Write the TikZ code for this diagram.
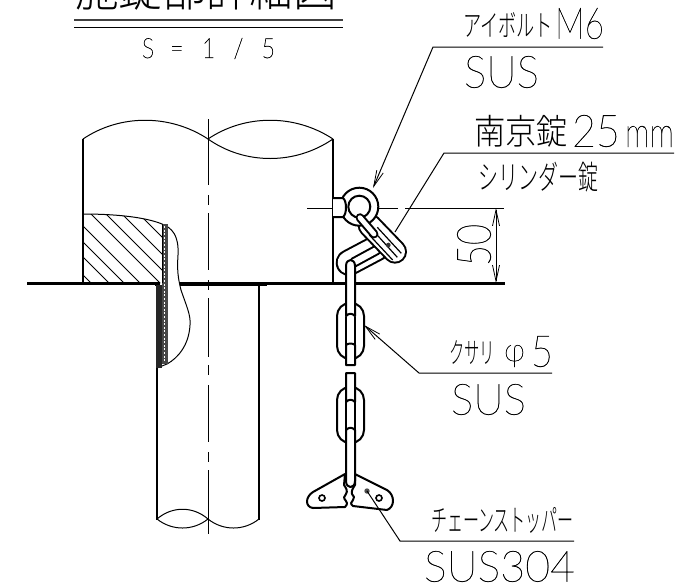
\documentclass[tikz,border=0pt]{standalone}
\usepackage{fontspec}
\usepackage{graphicx}
\usetikzlibrary{arrows.meta}
\newfontfamily\cadj{Noto Sans CJK JP Light}
\newfontfamily\cadl[FakeBold=0.7]{Lato Thin}
\newfontfamily\cads[FakeBold=1.4]{Lato Thin}
\tikzset{
  txt/.style={inner sep=0pt,outer sep=0pt,text=black},
  obj/.style={line width=2pt,line cap=round,line join=round},
  leader/.style={line width=1pt},
  barb/.tip={Straight Barb[length=16pt,width=7pt,line width=0.8pt]},
}
% capsule outline: black wide stroke with white core
\newcommand{\capsule}[3]{%
  \draw[line cap=round,line width=#3*2pt+2pt,black] #1 -- #2;
  \draw[line cap=round,line width=#3*2pt-2pt,white] #1 -- #2;}
\newcommand{\lbl}[6]{\node[txt] (#1) at (#2,#3) {\resizebox*{#4pt}{#5pt}{#6}};}
\begin{document}
\begin{tikzpicture}[x=1pt,y=-1pt]
\useasboundingbox (0,0) rectangle (684,584);
% title
\lbl{title}{206}{-12}{262}{44}{\cadj 施錠部詳細図}
\draw[line width=2.2pt,black!75] (74,20) -- (343,20);
\draw[line width=1pt] (74,27.5) -- (343,27.5);
\lbl{scale}{208.5}{48.5}{133}{21}{\cads S\hspace{0.7em}=\hspace{0.8em}1\hspace{0.8em}/\hspace{0.8em}5}
% hatching
\begin{scope}
  \clip (83,214) .. controls (115,214) and (145,217) .. (162,224) -- (162,283) -- (83,283) -- cycle;
  \foreach \c in {-192,-174,-159,-143,-123,-108,-92,-75}
    \draw[line width=0.9pt] (80,80-\c) -- (170,170-\c);
\end{scope}
\draw[line width=1pt] (83,214) .. controls (115,214) and (145,217) .. (162,224);
% centre lines
\draw[line width=1pt] (208,119) -- (208,185) (208,195) -- (208,205) (208,213) -- (208,270)
  (208,280) -- (208,290) (208,298) -- (208,357) (208,365) -- (208,375) (208,385) -- (208,442)
  (208,452) -- (208,462) (208,470) -- (208,534);
\draw[line width=1pt] (307,208) -- (398,208) (405,208) -- (504,208);
% upper pipe
\draw[line width=1pt] (83,139) .. controls (120,114) and (170,114) .. (208,139)
  .. controls (245,114) and (295,114) .. (333,139);
\draw[line width=1pt] (208,139) .. controls (245,165) and (295,165) .. (333,139);
\draw[obj,line cap=butt] (83,139) -- (83,283);
\draw[obj,line cap=butt] (333,139) -- (333,283);
% lower pipe
\draw[obj,line cap=butt] (157,368) -- (157,520);
\draw[obj,line cap=butt] (259,284) -- (259,520);
\draw[line width=1pt] (157,519) .. controls (172,506) and (193,506) .. (208,519);
\draw[line width=1pt] (157,519) .. controls (172,531) and (193,531) .. (208,519)
  .. controls (223,531) and (244,531) .. (259,519);
% base line
\draw[line width=2.2pt] (27,283.5) -- (160,283.5);
\draw[line width=3.5pt] (180,284) -- (267,284);
\draw[line width=2.2pt] (267,283.5) -- (505,283.5);
\draw[line width=1.5pt] (155,285) -- (160,285);
% cut-away edge
\draw[line width=1pt] (162,224) .. controls (172,228) and (179,235) .. (178,255)
  .. controls (177,270) and (178,278) .. (181,290)
  .. controls (186,305) and (191,315) .. (190,325)
  .. controls (189,345) and (178,358) .. (167,364) -- (157,368);
% weld bands
\fill[black!72] (162,224) rectangle (167.5,364);
\draw[white,line width=1pt,dash pattern=on 2pt off 1.6pt] (164.8,226) -- (164.8,362);
\draw[line width=1pt] (162,224) -- (162,283);
\fill[black!85] (156,285) rectangle (162,368);
% dimension
\draw[line width=1pt,{barb}-{barb}] (496,208) -- (496,283);
\node[txt,rotate=90] (dim) at (474,245) {\resizebox*{42pt}{34pt}{\cadl 50}};
% tilted chain link
\begin{scope}[shift={(280pt,-170pt)},x=0.3333pt,y=-0.3333pt]
  \capsule{(207,278)}{(290,234)}{12.3}
  \capsule{(222,277)}{(290,240)}{4.2}
  % lock body
  \capsule{(269,166)}{(345,245)}{11}
\end{scope}
% eye bolt ring
\draw[obj,fill=white] (359.3,206.7) circle (19);
\draw[obj,fill=white] (359.3,206.7) circle (11);
\draw[obj,fill=white] (333,198) -- (343,198) .. controls (347,201) and (347,214) .. (343,217) -- (333,217);
\begin{scope}[shift={(280pt,-170pt)},x=0.3333pt,y=-0.3333pt]
  \draw[line width=1.2pt] (278,180) -- (352,262);
  \draw[line width=1.2pt] (292,172) -- (364,250);
  \draw[line width=1.2pt] (268,195) -- (338,270);
  \fill[black!80] (325,225) circle (7);
  % shackle
  \capsule{(240,143)}{(282,192)}{3.4}
\end{scope}
% vertical bars and links
\draw[obj,rounded corners=13pt] (337,303) rectangle (364,359);
\draw[obj,fill=white] (346,345) .. controls (348,343) and (353,343) .. (355,345) -- (355,365) -- (346,365) -- cycle;
\draw[obj,fill=white] (346,316) .. controls (349,313) and (352,313) .. (355,316) -- (355,266)
  .. controls (355,258) and (346,258) .. (346,266) -- cycle;
\draw[obj] (346,317) -- (346,345) (355,317) -- (355,345);
\draw[obj,rounded corners=13pt] (337,387) rectangle (364,443);
\draw[obj,fill=white] (346,402) -- (346,373) -- (355,373) -- (355,402) .. controls (352,399) and (349,399) .. (346,402) -- cycle;
\draw[obj] (346,402) -- (346,430) (355,402) -- (355,430);
% stopper
\draw[obj,fill=white] (345,474) -- (313,492) .. controls (305,497) and (305,507) .. (313,508)
  -- (345,507) .. controls (348,504) and (347,502) .. (346,501)
  .. controls (343,498) and (344,496) .. (346,494) .. controls (348,491) and (346,488) .. (344,485) -- cycle;
\draw[obj,fill=white] (355,474) -- (387,490) .. controls (395,495) and (395,507) .. (387,510)
  -- (353,506) .. controls (350,504) and (351,502) .. (353,500)
  .. controls (355,498) and (354,496) .. (352,494) .. controls (351,491) and (353,488) .. (355,485) -- cycle;
\draw[line width=1.6pt,fill=white] (322,498) circle (3);
\draw[line width=1.6pt,fill=white] (379,498) circle (3);
\fill[black!70] (367,491) circle (2.7);
\draw[obj,fill=white] (346,430) .. controls (349,427) and (352,427) .. (355,430) -- (355,481)
  .. controls (355,489) and (346,489) .. (346,481) -- cycle;
% leaders
\coordinate (eyetip) at (373,188);
\coordinate (eyecorner) at (433,47);
\coordinate (eyeend) at (603,47);
\draw[leader,{barb}-] (eyetip) -- (eyecorner) -- (eyeend);
\coordinate (locktip) at (395,232);
\coordinate (lockcorner) at (444,153);
\coordinate (lockend) at (674,153);
\draw[leader] (locktip) -- (lockcorner) -- (lockend);
\coordinate (chaintip) at (364,325);
\coordinate (chaincorner) at (419,373);
\coordinate (chainend) at (552,373);
\draw[leader,{barb}-] (chaintip) -- (chaincorner) -- (chainend);
\coordinate (stoptip) at (367,491);
\coordinate (stopcorner) at (400,541);
\coordinate (stopend) at (574,541);
\draw[leader] (stoptip) -- (stopcorner) -- (stopend);
% labels
\lbl{eyeA}{508}{25.5}{90}{25}{\cadj アイボルト}
\lbl{eyeB}{579.5}{23.5}{49}{31}{\cadl M6}
\lbl{sus1}{501.5}{72}{75}{32}{\cadl SUS}
\lbl{lockA}{521}{131}{94}{32}{\cadj 南京錠}
\lbl{lockB}{596}{131}{48}{32}{\cadl 25}
\lbl{lockC}{649.5}{136.5}{49}{21}{\cadl mm}
\lbl{cyl}{538}{177}{120}{30}{\cadj シリンダー錠}
\lbl{chainA}{472}{353}{46}{24}{\cadj クサリ}
\lbl{chainB}{514.5}{356}{21}{22}{\cadl φ}
\lbl{chainC}{542}{351.5}{22}{31}{\cadl 5}
\lbl{sus2}{488.5}{399.5}{75}{31}{\cadl SUS}
\lbl{stopA}{502.5}{520}{143}{26}{\cadj チェーンストッパー}
\lbl{stopB}{499.5}{566.5}{151}{31}{\cadl SUS304}
\end{tikzpicture}
\end{document}
